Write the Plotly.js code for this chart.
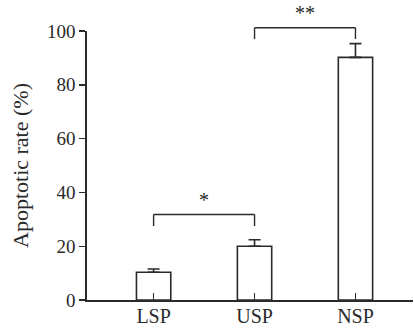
<!DOCTYPE html>
<html>
<head>
<meta charset="utf-8">
<script src="https://cdn.plot.ly/plotly-3.0.1.min.js"></script>
<style>html,body{margin:0;padding:0;background:#fff;}#chart{width:414px;height:328px;}</style>
</head>
<body>
<div id="chart"></div>
<script>
const categories = ['LSP', 'USP', 'NSP'];
const rates = [10.3, 20.0, 90.2];
const errorsUp = [1.2, 2.4, 5.1];
const errorsDown = [0, 0, 0];
const yTickValues = [0, 20, 40, 60, 80, 100];
const comparisons = [[0, 1], [1, 2]];
const compLabels = ['*', '**'];

const ink = '#2a2a2a';
const fontFam = '"Liberation Serif", "Times New Roman", serif';

const trace = {
  type: 'bar',
  x: categories,
  y: rates,
  width: 0.34,
  marker: {color: '#ffffff', line: {color: ink, width: 1.6}},
  error_y: {type: 'data', symmetric: false, array: errorsUp, arrayminus: errorsDown,
            color: ink, thickness: 1.6, width: 6},
  hoverinfo: 'skip'
};

// bracket levels (data units), legs drop, label offset
const bracketLevels = [31.8, 101.2];
const legDrop = [4.3, 4.2];
const labelOffset = [5.4, 5.6];
const shapes = [];
const annotations = [];
comparisons.forEach((c, i) => {
  const x0 = categories[c[0]], x1 = categories[c[1]];
  const top = bracketLevels[i] / 100, bot = (bracketLevels[i] - legDrop[i]) / 100;
  const ln = {color: ink, width: 1.4};
  shapes.push({type: 'line', xref: 'x', yref: 'paper', x0: x0, x1: x1, y0: top, y1: top, line: ln});
  shapes.push({type: 'line', xref: 'x', yref: 'paper', x0: x0, x1: x0, y0: top, y1: bot, line: ln});
  shapes.push({type: 'line', xref: 'x', yref: 'paper', x0: x1, x1: x1, y0: top, y1: bot, line: ln});
  annotations.push({xref: 'x', yref: 'paper', x: (c[0] + c[1]) / 2,
    y: (bracketLevels[i] + labelOffset[i]) / 100, yanchor: 'middle',
    text: compLabels[i], showarrow: false, font: {family: fontFam, size: 20, color: ink}});
});

const layout = {
  width: 414, height: 328,
  margin: {l: 87, r: 1, t: 31, b: 28, pad: 0},
  paper_bgcolor: '#ffffff', plot_bgcolor: '#ffffff',
  showlegend: false,
  font: {family: fontFam, color: ink},
  xaxis: {
    type: 'category', range: [-0.66, 2.57], showgrid: false, zeroline: false,
    showline: true, linecolor: ink, linewidth: 1.6,
    ticks: 'inside', ticklen: 7, tickwidth: 1.4, tickcolor: ink,
    ticklabelstandoff: -3,
    tickfont: {family: fontFam, size: 20, color: ink}
  },
  yaxis: {
    range: [0, 100], tickvals: yTickValues, showgrid: false, zeroline: false,
    showline: true, linecolor: ink, linewidth: 1.6,
    ticks: 'outside', ticklen: 6, tickwidth: 1.4, tickcolor: ink,
    tickfont: {family: fontFam, size: 19, color: ink},
    title: {text: 'Apoptotic rate (%)', font: {family: fontFam, size: 22, color: ink}, standoff: 12}
  },
  shapes: shapes,
  annotations: annotations
};

Plotly.newPlot('chart', [trace], layout, {staticPlot: true, displayModeBar: false});
</script>
</body>
</html>
